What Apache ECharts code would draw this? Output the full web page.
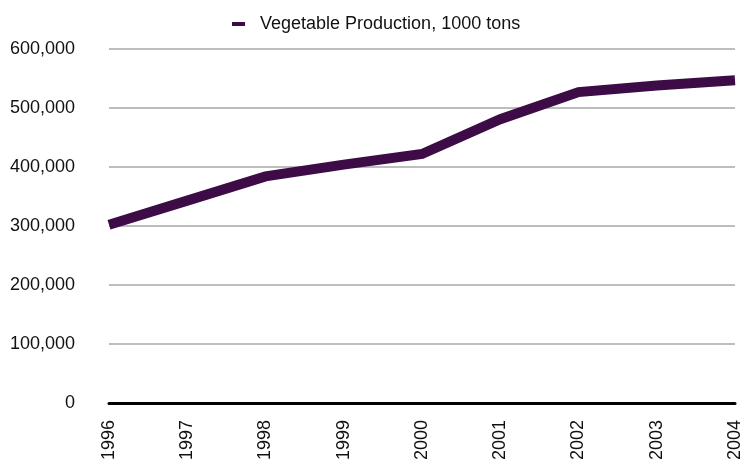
<!DOCTYPE html>
<html><head><meta charset="utf-8">
<script src="https://cdn.jsdelivr.net/npm/echarts@6/dist/echarts.min.js"></script>
<style>html,body{margin:0;padding:0;background:#fff;overflow:hidden}#c{width:744px;height:463px}</style>
</head><body><div id="c"></div>
<script>
const years = ['1996','1997','1998','1999','2000','2001','2002','2003','2004'];
const production = [302000, 343000, 384000, 404000, 422000, 481000, 527000, 538000, 547000];
const seriesName = 'Vegetable Production, 1000 tons';

const chart = echarts.init(document.getElementById('c'));
const font = 'Helvetica, "Liberation Sans", Arial, sans-serif';
chart.setOption({
  animation: false,
  textStyle: { fontFamily: font },
  legend: {
    top: 10, left: 227,
    data: [seriesName],
    icon: 'rect', itemWidth: 13, itemHeight: 4,
    textStyle: { fontSize: 18, color: '#111', fontFamily: font, padding: [0,0,0,10] }
  },
  grid: { left: 109, right: 4, top: 49, bottom: 57, containLabel: false },
  xAxis: {
    type: 'category', data: years, boundaryGap: false,
    axisLine: { lineStyle: { color: '#000', width: 3 } },
    axisTick: { show: false },
    axisLabel: { rotate: 90, fontSize: 18, color: '#111', margin: 17, fontFamily: font }
  },
  yAxis: {
    type: 'value', min: 0, max: 600000, interval: 100000,
    axisLine: { show: false }, axisTick: { show: false },
    axisLabel: { fontSize: 18, color: '#111', margin: 34, fontFamily: font,
      formatter: v => v.toLocaleString('en-US') },
    splitLine: { lineStyle: { color: '#bdbdbd', width: 2 } }
  },
  series: [{
    name: seriesName, type: 'line', data: production,
    showSymbol: false, symbol: 'none',
    lineStyle: { color: '#3d0b46', width: 10, join: 'miter' },
    itemStyle: { color: '#3d0b46' }
  }]
});
</script></body></html>
